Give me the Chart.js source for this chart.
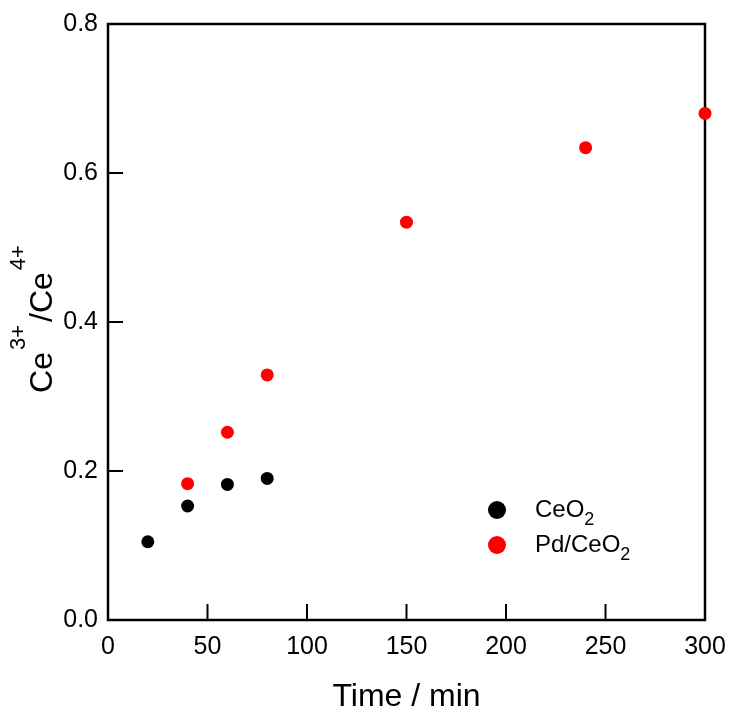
<!DOCTYPE html>
<html>
<head>
<meta charset="utf-8">
<script src="https://cdn.jsdelivr.net/npm/chart.js@4.4.0/dist/chart.umd.min.js"></script>
<style>
  html, body { margin: 0; padding: 0; background: #fff; }
  #wrap { width: 733px; height: 715px; }
</style>
</head>
<body>
<div id="wrap"><canvas id="myChart" width="733" height="715"></canvas></div>
<script>
// datos
const ceo2Time = [20, 40, 60, 80];
const ceo2Ratio = [0.105, 0.153, 0.182, 0.190];
const pdTime = [40, 60, 80, 150, 240, 300];
const pdRatio = [0.183, 0.252, 0.329, 0.534, 0.634, 0.680];
const xTicks = [0, 50, 100, 150, 200, 250, 300];
const yTicks = [0, 0.2, 0.4, 0.6, 0.8];

const FONT = "'Liberation Sans', Arial, sans-serif";

function toPoints(xs, ys) {
    return xs.map((x, i) => ({ x: x, y: ys[i] }));
}

// marco, ticks hacia adentro, titulos y leyenda
const framePlugin = {
    id: 'frame',
    beforeDatasetsDraw(chart) {
        const ctx = chart.ctx;
        const a = chart.chartArea;
        const xs = chart.scales.x;
        const ys = chart.scales.y;
        ctx.save();
        ctx.strokeStyle = '#000';
        ctx.lineWidth = 2.5;
        ctx.strokeRect(a.left, a.top, a.right - a.left, a.bottom - a.top);
        ctx.lineWidth = 2;
        ctx.beginPath();
        xTicks.forEach(v => {
            const px = xs.getPixelForValue(v);
            ctx.moveTo(px, a.bottom);
            ctx.lineTo(px, a.bottom - 16);
        });
        yTicks.forEach(v => {
            const py = ys.getPixelForValue(v);
            ctx.moveTo(a.left, py);
            ctx.lineTo(a.left + 15, py);
        });
        ctx.stroke();
        ctx.restore();
    },
    afterDraw(chart) {
        const ctx = chart.ctx;
        const a = chart.chartArea;
        ctx.save();
        ctx.fillStyle = '#000';

        // titulo eje x
        ctx.font = '32px ' + FONT;
        ctx.textAlign = 'center';
        ctx.textBaseline = 'middle';
        ctx.fillText('Time / min', (a.left + a.right) / 2, 697);

        // titulo eje y: Ce3+/Ce4+
        const parts = [
            { t: 'Ce', big: true, gap: 2 },
            { t: '3+', big: false, gap: 3 },
            { t: '/Ce', big: true, gap: 2 },
            { t: '4+', big: false, gap: 0 }
        ];
        let total = 0;
        parts.forEach(p => {
            ctx.font = (p.big ? '32px ' : '22px ') + FONT;
            p.w = ctx.measureText(p.t).width;
            total += p.w + p.gap;
        });
        ctx.translate(52, 319);
        ctx.rotate(-Math.PI / 2);
        ctx.textAlign = 'left';
        ctx.textBaseline = 'alphabetic';
        let cx = -total / 2;
        parts.forEach(p => {
            ctx.font = (p.big ? '32px ' : '22px ') + FONT;
            ctx.fillText(p.t, cx, p.big ? 0 : -27);
            cx += p.w + p.gap;
        });
        ctx.setTransform(1, 0, 0, 1, 0, 0);

        // leyenda
        const items = [
            { label: 'CeO', color: '#000', y: 510 },
            { label: 'Pd/CeO', color: '#ff0000', y: 545 }
        ];
        items.forEach(it => {
            ctx.beginPath();
            ctx.fillStyle = it.color;
            ctx.arc(497, it.y, 9, 0, Math.PI * 2);
            ctx.fill();
            ctx.fillStyle = '#000';
            ctx.font = '24px ' + FONT;
            ctx.textAlign = 'left';
            ctx.textBaseline = 'middle';
            ctx.fillText(it.label, 535, it.y);
            const w = ctx.measureText(it.label).width;
            ctx.font = '18px ' + FONT;
            ctx.fillText('2', 535 + w, it.y + 10);
        });
        ctx.restore();
    }
};

const config = {
    type: 'scatter',
    data: {
        datasets: [
            {
                label: 'CeO2',
                data: toPoints(ceo2Time, ceo2Ratio),
                pointRadius: 6.5,
                pointBackgroundColor: '#000',
                pointBorderWidth: 0,
                clip: false
            },
            {
                label: 'Pd/CeO2',
                data: toPoints(pdTime, pdRatio),
                pointRadius: 6.5,
                pointBackgroundColor: '#ff0000',
                pointBorderWidth: 0,
                clip: false
            }
        ]
    },
    options: {
        responsive: false,
        animation: false,
        devicePixelRatio: 1,
        layout: { padding: { top: 24, right: 28, left: 0, bottom: 0 } },
        plugins: {
            legend: { display: false },
            tooltip: { enabled: false }
        },
        scales: {
            x: {
                type: 'linear',
                min: 0,
                max: 300,
                afterBuildTicks: scale => { scale.ticks = xTicks.map(v => ({ value: v })); },
                afterFit: scale => {
                    scale.height = 95;
                    scale.paddingLeft = 0;
                    scale.paddingRight = 0;
                },
                grid: { display: false, drawTicks: false, tickLength: 0 },
                border: { display: false },
                ticks: {
                    color: '#000',
                    font: { family: FONT, size: 25 },
                    padding: 12,
                    maxRotation: 0,
                    callback: value => String(value)
                }
            },
            y: {
                min: 0,
                max: 0.8,
                afterBuildTicks: scale => { scale.ticks = yTicks.map(v => ({ value: v })); },
                afterFit: scale => {
                    scale.width = 108;
                    scale.paddingTop = 0;
                    scale.paddingBottom = 0;
                },
                grid: { display: false, drawTicks: false, tickLength: 0 },
                border: { display: false },
                ticks: {
                    color: '#000',
                    font: { family: FONT, size: 25 },
                    padding: 10,
                    callback: value => value.toFixed(1)
                }
            }
        }
    },
    plugins: [framePlugin]
};

const ctx = document.getElementById('myChart').getContext('2d');
const myChart = new Chart(ctx, config);
</script>
</body>
</html>
